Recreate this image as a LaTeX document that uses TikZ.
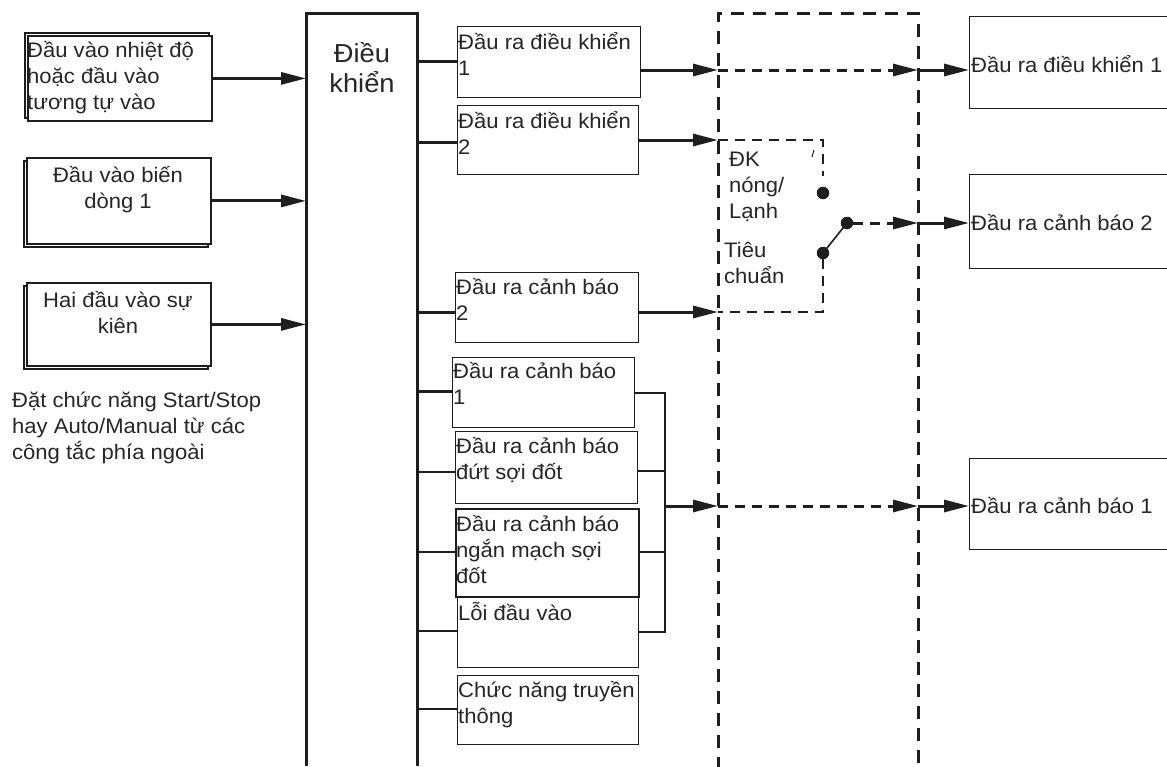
\documentclass[tikz,border=0pt]{standalone}
\usepackage{fontspec}
\setmainfont{Liberation Sans}[FakeStretch=1.05]
\usetikzlibrary{arrows.meta,calc}
\definecolor{ink}{HTML}{1E1E1E}
\definecolor{txtc}{HTML}{262626}
\begin{document}
\begin{tikzpicture}[x=1pt,y=-1pt,line join=miter,
  box/.style={draw=ink,line width=1.4pt,fill=white,rectangle,inner sep=0pt,anchor=north west},
  lbox/.style={box,line width=1.8pt},
  txt/.style={anchor=base west,inner sep=0pt,align=left,text=txtc,font=\fontsize{21}{26}\selectfont},
  ctxt/.style={txt,anchor=base,align=center},
  thk/.style={draw=ink,line width=3pt},
  thn/.style={draw=ink,line width=1.6pt},
  arr/.style={thk,-{Triangle[length=25pt,width=12pt]}},
  bigdash/.style={draw=ink,line width=3pt,dash pattern=on 13pt off 9pt},
  hdash/.style={draw=ink,line width=3pt,dash pattern=on 10pt off 7pt},
  sdash/.style={draw=ink,line width=2.5pt,dash pattern=on 10pt off 7pt},
  dotn/.style={circle,fill=ink,inner sep=0pt,minimum size=12.5pt}]
\clip (0,0) rectangle (1167,766);
\fill[white] (0,0) rectangle (1167,766);

% ---- left input boxes
\node[lbox,minimum width=184pt,minimum height=85pt] (b1s) at (24,32) {};
\node[lbox,minimum width=184pt,minimum height=85pt] (b1) at (27,35) {};
\node[lbox,minimum width=184pt,minimum height=86pt] (b2s) at (23,160) {};
\node[lbox,minimum width=184pt,minimum height=86pt] (b2) at (26,157) {};
\node[lbox,minimum width=184pt,minimum height=83pt] (b3s) at (23,285) {};
\node[lbox,minimum width=184pt,minimum height=83pt] (b3) at (26,282) {};
% (multi-line nodes: base anchor = last line's baseline)
\node[txt] (t1) at (27,109) {Đầu vào nhiệt độ\\hoặc đầu vào\\tương tự vào};
\node[ctxt] (t2) at (118,208) {Đầu vào biến\\dòng 1};
\node[ctxt] (t3) at (118,333) {Hai đầu vào sự\\kiên};
\node[txt] (cap) at (12,459) {Đặt chức năng Start/Stop\\hay Auto/Manual từ các\\công tắc phía ngoài};

% ---- control block
\node[inner sep=0pt,minimum width=111pt,minimum height=753pt,anchor=north west] (ctrl) at (306,13) {};
\draw[thk] (ctrl.south west) -- (ctrl.north west) -- (ctrl.north east) -- (ctrl.south east);
\node[ctxt,font=\fontsize{26}{30}\selectfont] (tc) at (362,92) {Điều\\khiển};

\draw[arr] (b1.east) -- (ctrl.west |- b1.east);
\draw[arr] (b2.east) -- (ctrl.west |- b2.east);
\draw[arr] (b3.east) -- (ctrl.west |- b3.east);

% ---- middle output boxes
\node[box,minimum width=183pt,minimum height=71pt] (o1) at (457,26) {};
\node[box,minimum width=181pt,minimum height=69pt] (o2) at (457,105) {};
\node[box,minimum width=183pt,minimum height=70pt] (o3) at (455,272) {};
\node[box,minimum width=182pt,minimum height=70pt] (o4) at (452,357) {};
\node[box,minimum width=182pt,minimum height=72pt] (o5) at (455,431) {};
\node[box,minimum width=181pt,minimum height=70pt] (o7) at (457,597) {};
\node[box,line width=1.6pt,minimum width=183pt,minimum height=88pt] (o6) at (455,508) {};
\node[box,minimum width=181pt,minimum height=69pt] (o8) at (457,675) {};

\node[txt] (to1) at (458,75) {Đầu ra điều khiển\\1};
\node[txt] (to2) at (458,154) {Đầu ra điều khiển\\2};
\node[txt] (to3) at (456,320) {Đầu ra cảnh báo\\2};
\node[txt] (to4) at (453,404) {Đầu ra cảnh báo\\1};
\node[txt] (to5) at (456,479) {Đầu ra cảnh báo\\đứt sợi đốt};
\node[txt] (to6) at (456,583) {Đầu ra cảnh báo\\ngắn mạch sợi\\đốt};
\node[txt] (to7) at (458,620) {Lỗi đầu vào};
\node[txt] (to8) at (458,723) {Chức năng truyền\\thông};

% bus connections
\coordinate (p1) at ($(o1.north west)+(0,35)$);
\coordinate (p2) at ($(o2.north west)+(0,37)$);
\coordinate (p3) at ($(o3.north west)+(0,40)$);
\coordinate (p4) at ($(o4.north west)+(0,34)$);
\coordinate (p5) at ($(o5.north west)+(0,41)$);
\coordinate (p6) at ($(o6.north west)+(0,44)$);
\coordinate (p7) at ($(o7.north west)+(0,34)$);
\coordinate (p8) at ($(o8.north west)+(0,34)$);
\draw[thk] (ctrl.east |- p1) -- (p1);
\draw[thk] (ctrl.east |- p2) -- (p2);
\draw[thk] (ctrl.east |- p3) -- (p3);
\draw[thk] (ctrl.east |- p4) -- (p4);
\draw[thn] (ctrl.east |- p5) -- (p5);
\draw[thn] (ctrl.east |- p6) -- (p6);
\draw[thn] (ctrl.east |- p7) -- (p7);
\draw[thn] (ctrl.east |- p8) -- (p8);

% right bracket of alarm group
\coordinate (q4) at ($(o4.north east)+(0,36)$);
\coordinate (q5) at ($(o5.north east)+(0,40)$);
\coordinate (q6) at ($(o6.north east)+(0,44)$);
\coordinate (q7) at ($(o7.north east)+(0,35)$);
\coordinate (bkT) at (665,393);
\coordinate (bkB) at (665,632);
\coordinate (bx) at (665,506);
\draw[draw=ink,line width=2pt] (q4) -- (bkT) -- (bkB) -- (q7);
\draw[draw=ink,line width=2pt] (q5) -- (q5 -| bkT);
\draw[draw=ink,line width=2pt] (q6) -- (q6 -| bkT);

% ---- big dashed block
\coordinate (dTL) at (718,13);
\coordinate (dTR) at (918,13);
\coordinate (dBL) at (718,770);
\coordinate (dBR) at (918,770);
\draw[bigdash] (dBL) -- (dTL) -- (dTR) -- (dBR);

\coordinate (j1L) at (718,70);
\coordinate (j1R) at (918,70);
\coordinate (j2L) at (718,140);
\coordinate (j3L) at (718,312);
\coordinate (j4L) at (718,506);
\coordinate (j4R) at (918,506);
\coordinate (swR) at (918,223);

% ---- right output boxes
\node[box,minimum width=215pt,minimum height=92pt] (r1) at (969,16) {};
\node[box,minimum width=215pt,minimum height=94pt] (r2) at (969,174) {};
\node[box,minimum width=215pt,minimum height=91pt] (r3) at (969,458) {};
\node[txt] (tr1) at (971,72) {Đầu ra điều khiển 1};
\node[txt] (tr2) at (971,230) {Đầu ra cảnh báo 2};
\node[txt] (tr3) at (971,513) {Đầu ra cảnh báo 1};

% arrows into the dashed block
\draw[arr] ($(o1.north east)+(0,44)$) -- (j1L);
\draw[arr] ($(o2.north east)+(0,35)$) -- (j2L);
\draw[arr] ($(o3.north east)+(0,40)$) -- (j3L);
\draw[arr] (bx) -- (j4L);

\draw[hdash,-{Triangle[length=25pt,width=12pt]}] (j1L) -- (j1R);
\draw[arr] (j1R) -- (r1.west |- j1R);
\draw[hdash,-{Triangle[length=25pt,width=12pt]}] (j4L) -- (j4R);
\draw[arr] (j4R) -- (r3.west |- j4R);

% ---- heating/cooling switch
\coordinate (sTR) at (823,140);
\coordinate (sBR) at (823,312);
\node[dotn] (d1) at (823,193) {};
\node[dotn] (d2) at (823,253) {};
\node[dotn] (pv) at (847,223) {};
\draw[sdash] (j2L) -- (sTR) -- ($(sTR)+(0,36)$);
\draw[sdash] (d2) -- (sBR) -- (j3L);
\draw[draw=ink,line width=1.6pt] (pv.center) -- (d2.center);
\draw[draw=ink,line width=1pt] (812,157) -- (814,150);
\draw[hdash,-{Triangle[length=25pt,width=12pt]}] (pv) -- (swR);
\draw[arr] (swR) -- (r2.west |- swR);
\node[txt] (sw1) at (729,218) {ĐK\\nóng/\\Lạnh};
\node[txt] (sw2) at (724,283) {Tiêu\\chuẩn};
\end{tikzpicture}
\end{document}
